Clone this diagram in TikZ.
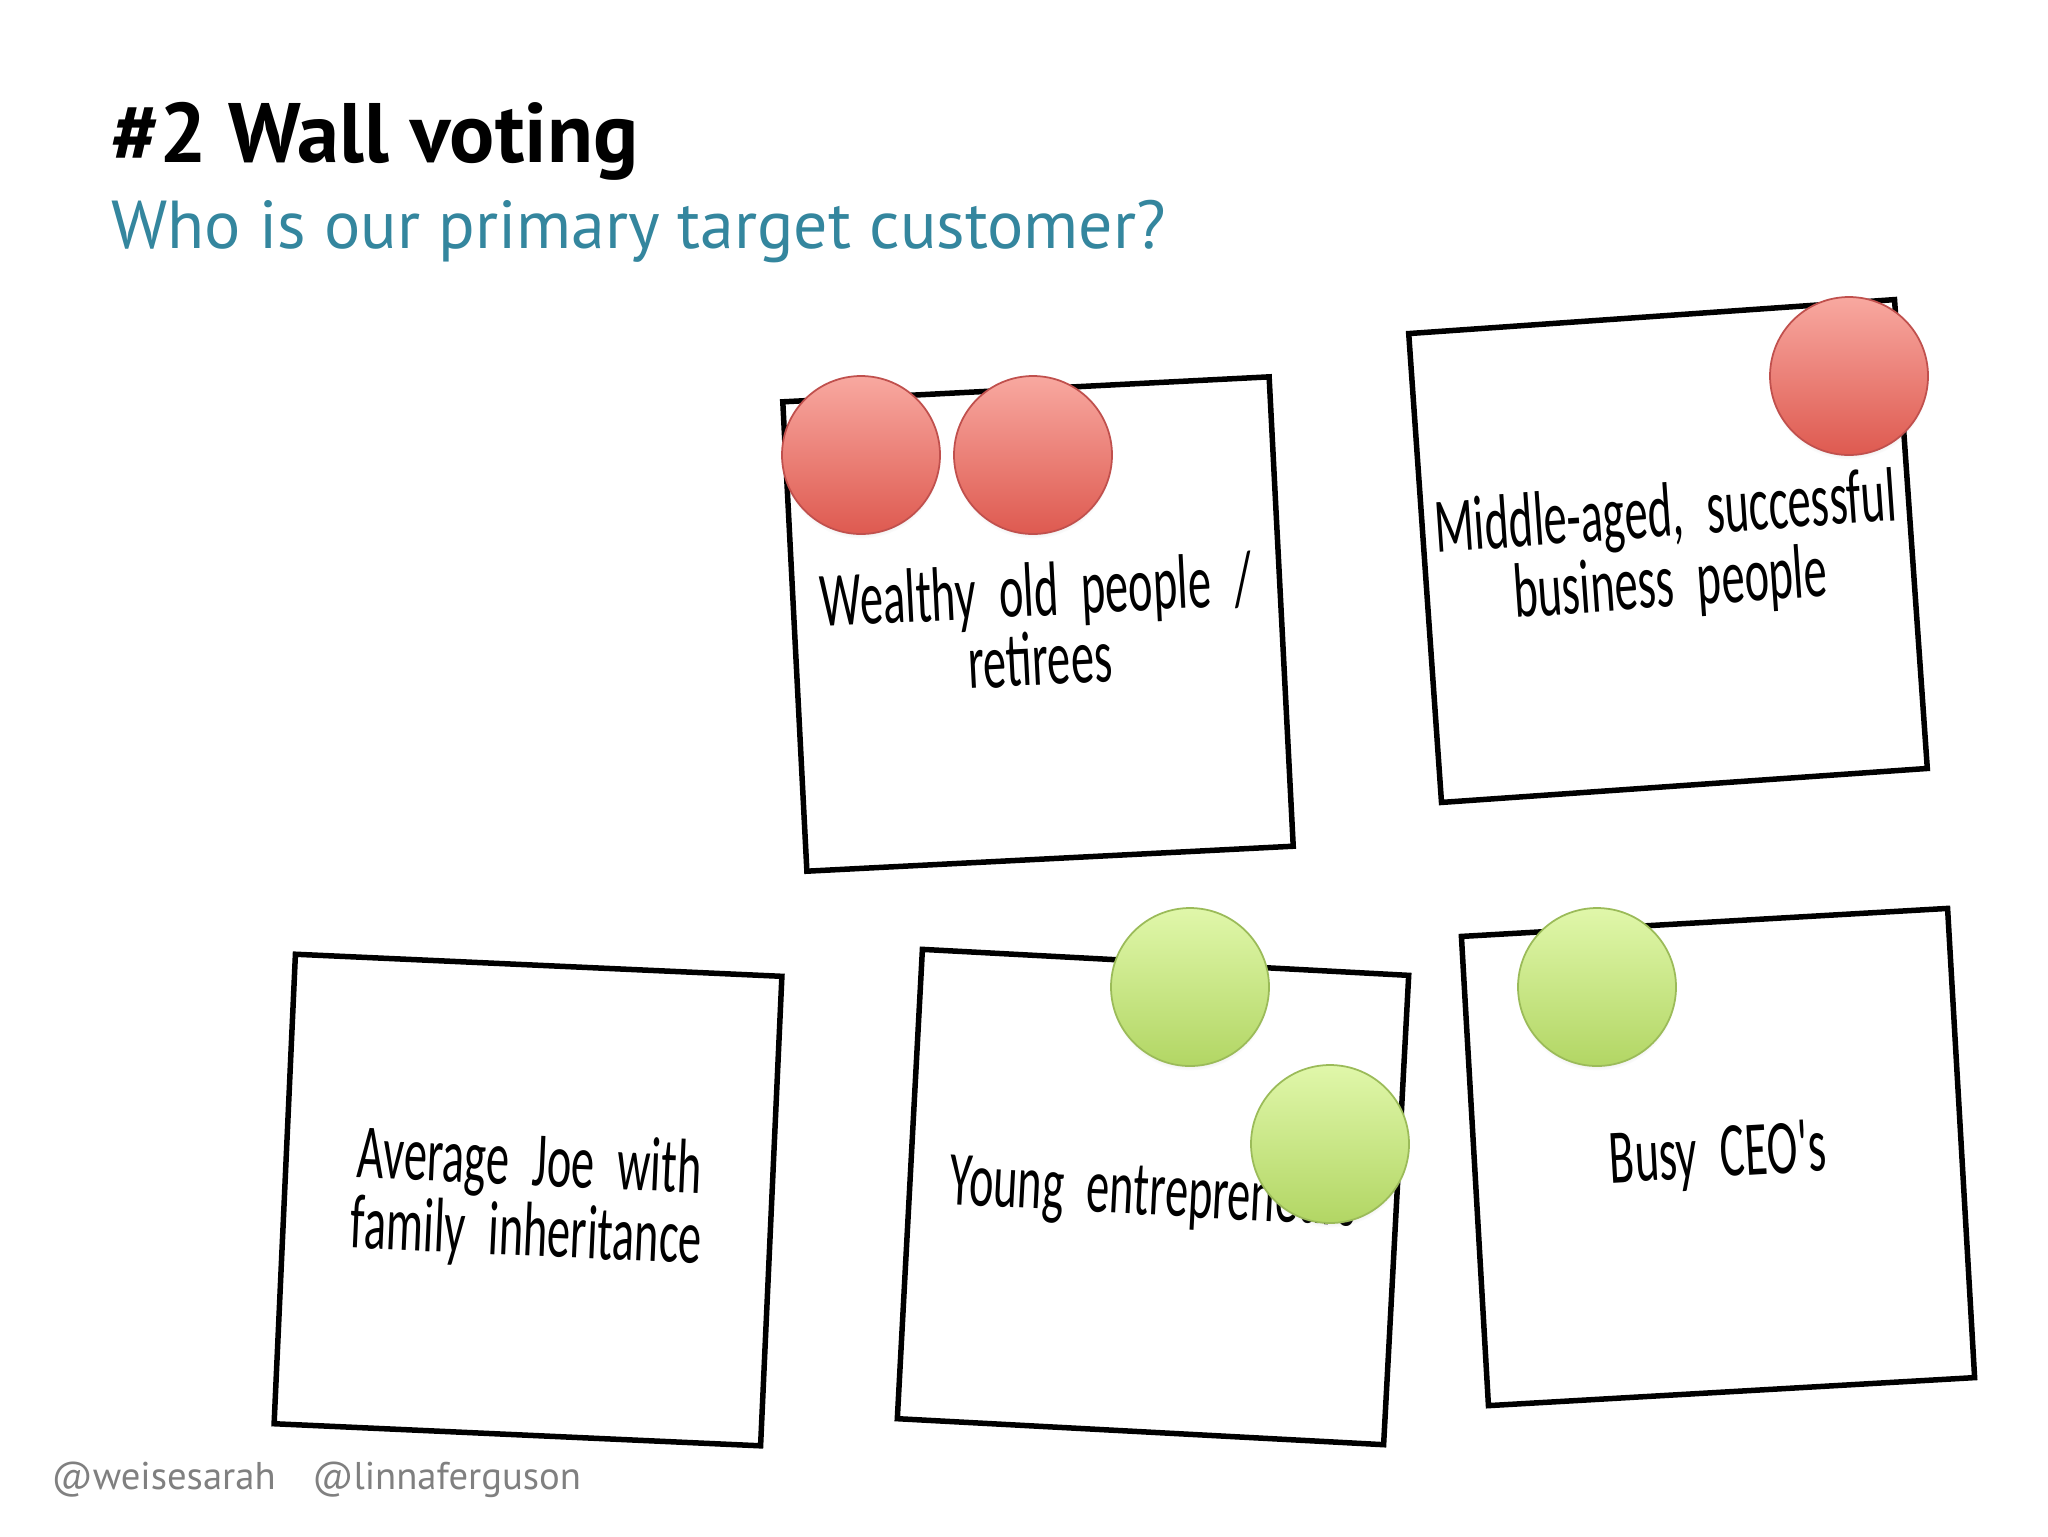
\documentclass[tikz,border=0pt]{standalone}
\usepackage{fontspec}
\setmainfont{PT Sans}
\newfontfamily\handfont[FakeStretch=0.6,WordSpace=2.2]{Carlito}
\usetikzlibrary{shadows}
\definecolor{teal1}{RGB}{52,134,158}
\definecolor{foot}{RGB}{128,128,128}
\definecolor{redtop}{RGB}{248,168,160}
\definecolor{redbot}{RGB}{222,90,80}
\definecolor{redline}{RGB}{192,80,77}
\definecolor{grntop}{RGB}{224,247,170}
\definecolor{grnbot}{RGB}{178,214,100}
\definecolor{grnline}{RGB}{155,187,89}
\tikzset{
  note/.style={draw=black, fill=white, line width=0.55mm, minimum width=48.7mm, minimum height=47.0mm,
    align=center, inner sep=0pt, font=\handfont\fontsize{22}{17}\selectfont},
  dot/.style={circle, minimum size=15.8mm, inner sep=0pt, line width=0.5pt,
    circular drop shadow={shadow xshift=0pt, shadow yshift=-1.3pt, opacity=0.25, shadow scale=1.0}},
  reddot/.style={dot, draw=redline, top color=redtop, bottom color=redbot},
  grndot/.style={dot, draw=grnline, top color=grntop, bottom color=grnbot},
}
\begin{document}
\begin{tikzpicture}[x=0.1mm, y=-0.1mm]
\useasboundingbox[fill=white] (0,0) rectangle (2048,1536);
% titles
\node[anchor=base west, inner sep=0pt, font=\bfseries\fontsize{24}{28}\selectfont] (title) at (111,162) {\#2 Wall voting};
\node[anchor=base west, inner sep=0pt, text=teal1, font=\fontsize{19.3}{23}\selectfont] (subtitle) at (111,248) {Who is our primary target customer?};
% notes
\node[note, rotate=2.94] (nA) at (1038,624) {Wealthy old people /\\retirees};
\node[note, rotate=4.0] (nB) at (1668,551) {Middle-aged, successful\\business people};
\node[note, rotate=-2.6] (nC) at (528,1200) {Average Joe with\\family inheritance};
\node[note, rotate=-3.06] (nD) at (1153,1197) {Young entrepreneurs};
\node[note, rotate=3.3] (nE) at (1718,1157) {Busy CEO's};
% votes
\node[reddot] (r1) at (861,455) {};
\node[reddot] (r2) at (1033,455) {};
\node[reddot] (r3) at (1849,376) {};
\node[grndot] (g1) at (1190,987) {};
\node[grndot] (g2) at (1330,1144) {};
\node[grndot] (g3) at (1597,987) {};
% footer
\node[anchor=base west, inner sep=0pt, text=foot, font=\fontsize{11}{14}\selectfont] (footer) at (51,1489) {@weisesarah\hspace{0.95em}@linnaferguson};
\end{tikzpicture}
\end{document}
